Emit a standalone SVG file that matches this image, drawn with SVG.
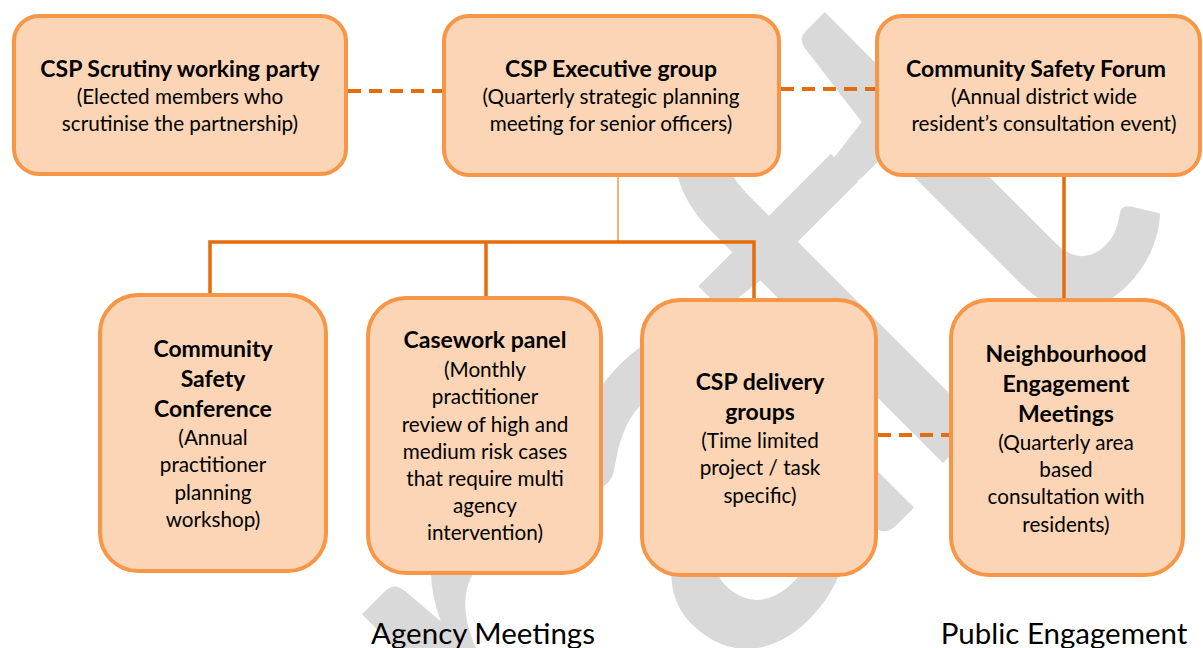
<svg xmlns="http://www.w3.org/2000/svg" width="1203" height="648" viewBox="0 0 1203 648">
<style>
.box{fill:#FBD5B5;stroke:#F79646;stroke-width:4}
.t{font-family:Lato,"Open Sans",sans-serif;font-size:20.7px;fill:#000;text-anchor:middle}
.b{font-weight:bold;font-size:23px}
.lbl{font-family:Lato,"Open Sans",sans-serif;font-size:29.5px;fill:#000;text-anchor:middle}
.solid{stroke:#E46C0A;stroke-width:3.5;fill:none}
.thin{stroke:#F79646;stroke-width:1.5;fill:none}
.dash{stroke:#E46C0A;stroke-width:4;stroke-dasharray:13 8;fill:none}
.wm{font-family:Lato,"Open Sans",sans-serif;font-size:600px;fill:#D9D9D9}
</style>
<rect width="1203" height="648" fill="#fff"/>
<text class="wm" transform="translate(286,1120) rotate(-45)"><tspan x="-400">D</tspan><tspan x="369">r</tspan><tspan x="618" dy="11">a</tspan><tspan x="867" dy="-11">f</tspan><tspan x="1050">t</tspan></text>
<g id="connectors">
<path class="dash" d="M348 91 H442"/>
<path class="dash" d="M781 89 H875"/>
<path class="dash" d="M878 435 H949"/>
<path class="thin" d="M618 177 V241"/>
<path class="solid" d="M210 297 V242 H754 V300"/>
<path class="solid" d="M486 242 V298"/>
<path class="solid" d="M1064 177 V300"/>
</g>
<g id="scrutiny">
<rect class="box" x="14" y="16" width="332" height="158" rx="25"/>
<text class="t b" x="180" y="77">CSP Scrutiny working party</text>
<text class="t" x="180" y="104">(Elected members who</text>
<text class="t" x="180" y="131">scrutinise the partnership)</text>
</g>
<g id="executive">
<rect class="box" x="444" y="16" width="335" height="159" rx="25"/>
<text class="t b" x="611" y="77">CSP Executive group</text>
<text class="t" x="611" y="104">(Quarterly strategic planning</text>
<text class="t" x="611" y="131">meeting for senior officers)</text>
</g>
<g id="forum">
<rect class="box" x="877" y="16" width="323" height="159" rx="25"/>
<text class="t b" x="1036" y="77">Community Safety Forum</text>
<text class="t" x="1044" y="104">(Annual district wide</text>
<text class="t" x="1044" y="131">resident’s consultation event)</text>
</g>
<g id="conference">
<rect class="box" x="100" y="295" width="226" height="276" rx="38"/>
<text class="t b" x="213" y="357">Community</text>
<text class="t b" x="213" y="387">Safety</text>
<text class="t b" x="213" y="417">Conference</text>
<text class="t" x="213" y="445">(Annual</text>
<text class="t" x="213" y="472">practitioner</text>
<text class="t" x="213" y="500">planning</text>
<text class="t" x="213" y="527">workshop)</text>
</g>
<g id="casework">
<rect class="box" x="368" y="298" width="233" height="275" rx="38"/>
<text class="t b" x="485" y="348">Casework panel</text>
<text class="t" x="485" y="377">(Monthly</text>
<text class="t" x="485" y="404">practitioner</text>
<text class="t" x="485" y="432">review of high and</text>
<text class="t" x="485" y="459">medium risk cases</text>
<text class="t" x="485" y="486">that require multi</text>
<text class="t" x="485" y="513">agency</text>
<text class="t" x="485" y="540">intervention)</text>
</g>
<g id="delivery">
<rect class="box" x="642" y="300" width="234" height="275" rx="38"/>
<text class="t b" x="760" y="390">CSP delivery</text>
<text class="t b" x="760" y="420">groups</text>
<text class="t" x="760" y="448">(Time limited</text>
<text class="t" x="760" y="475">project / task</text>
<text class="t" x="760" y="503">specific)</text>
</g>
<g id="neighbourhood">
<rect class="box" x="951" y="300" width="232" height="275" rx="38"/>
<text class="t b" x="1066" y="362">Neighbourhood</text>
<text class="t b" x="1066" y="392">Engagement</text>
<text class="t b" x="1066" y="422">Meetings</text>
<text class="t" x="1066" y="450">(Quarterly area</text>
<text class="t" x="1066" y="477">based</text>
<text class="t" x="1066" y="504">consultation with</text>
<text class="t" x="1066" y="532">residents)</text>
</g>
<g id="labels">
<text class="lbl" x="483" y="644">Agency Meetings</text>
<text class="lbl" x="1064" y="644">Public Engagement</text>
</g>
</svg>
